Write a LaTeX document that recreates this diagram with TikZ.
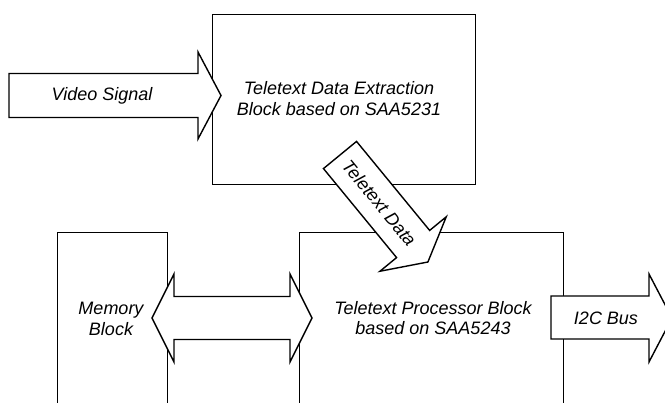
\documentclass[tikz,border=0pt]{standalone}
\usepackage{fontspec}
\setmainfont{Liberation Sans}
\begin{document}
\begin{tikzpicture}[x=1pt,y=-1pt,
  blk/.style={draw, line width=1.4pt, inner sep=0pt},
  barrow/.style={draw, fill=white, line width=1.4pt, line join=miter},
  lbl/.style={font=\fontsize{18}{20.5}\selectfont\itshape, align=center, inner sep=0pt}]
\useasboundingbox (0,0) rectangle (665,403);
\clip (0,0) rectangle (665,403);
% blocks
\node[blk, minimum width=263pt, minimum height=170pt, anchor=north west] (extract) at (212,14) {};
\node[blk, minimum width=110pt, minimum height=190pt, anchor=north west] (memory) at (57,232) {};
\node[blk, minimum width=264pt, minimum height=190pt, anchor=north west] (proc) at (299,232) {};
% block arrows
\draw[barrow] (9,73.5) -- (198,73.5) -- (198,52) -- (221,95.5) -- (198,139) -- (198,117.5) -- (9,117.5) -- cycle;
\draw[barrow] (152,318) -- (174,274) -- (174,296.5) -- (290,296.5) -- (290,274) -- (312,318)
  -- (290,362) -- (290,339.5) -- (174,339.5) -- (174,362) -- cycle;
\draw[barrow] (551,296) -- (649,296) -- (649,274) -- (672,318) -- (649,362) -- (649,339) -- (551,339) -- cycle;
\begin{scope}[shift={(340,155)}, rotate=-50.6]
  \draw[barrow] (0,-21.4) -- (115.2,-21.4) -- (115.2,-42.9) -- (138.5,0) -- (115.2,42.9) -- (115.2,21.4) -- (0,21.4) -- cycle;
  \node[lbl, rotate=-50.6] (tdata) at (62,0) {Teletext Data};
\end{scope}
% labels
\node[lbl] (vs) at (102,96) {Video Signal};
\node[lbl] (extl) at (339,98.5) {Teletext Data Extraction\\Block based on SAA5231};
\node[lbl] (meml) at (111,319) {Memory\\Block};
\node[lbl] (procl) at (433,318) {Teletext Processor Block\\based on SAA5243};
\node[lbl] (i2c) at (606,318) {I2C Bus};
\end{tikzpicture}
\end{document}
